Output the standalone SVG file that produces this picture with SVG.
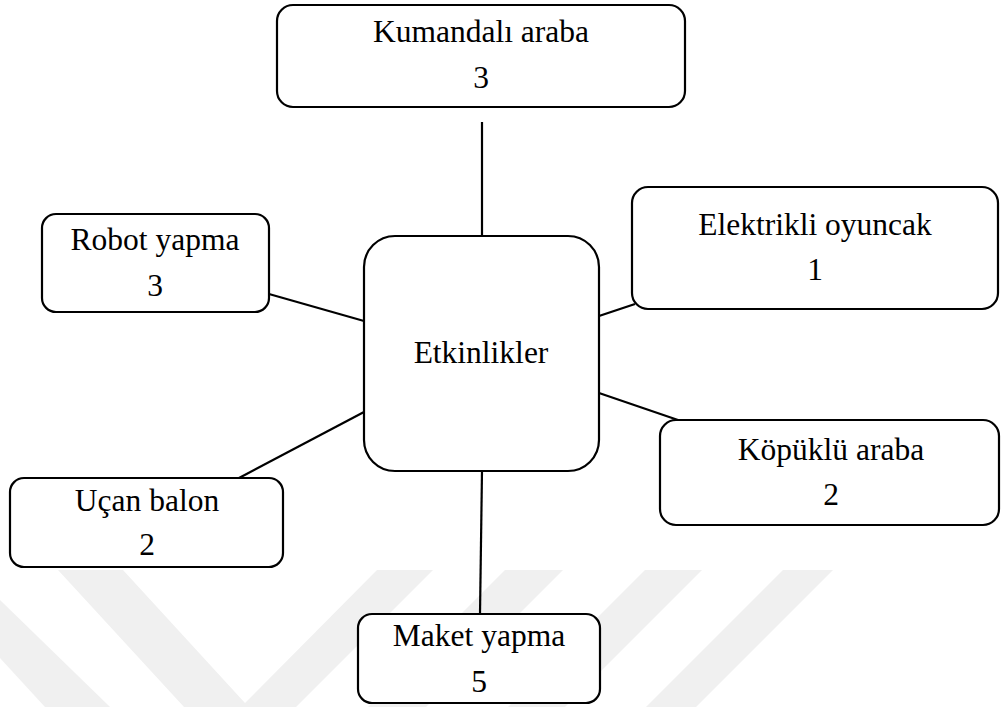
<svg xmlns="http://www.w3.org/2000/svg" width="1001" height="707" viewBox="0 0 1001 707">
<style>
.box{fill:#fff;stroke:#000;stroke-width:2.2}
.lbl{font-family:"Liberation Serif","Times New Roman",serif;font-size:31.5px;fill:#000;text-anchor:middle}
.wm{fill:#f0f0f0}
.conn line{stroke:#000;stroke-width:2.2}
</style>
<rect width="1001" height="707" fill="#fff"/>
<g id="watermark">
<polygon class="wm" points="58,570 123,570 245,703 377,570 433,570 296,707 184,707"/>
<polygon class="wm" points="0,600 110,707 45,707 0,658"/>
<polygon class="wm" points="505,570 563,570 426,707 368,707"/>
<polygon class="wm" points="645,570 702,570 565,707 508,707"/>
<polygon class="wm" points="783,570 833,570 696,707 646,707"/>
</g>
<g id="connectors" class="conn">
<line x1="482" y1="122" x2="482" y2="236"/>
<line x1="269" y1="294" x2="364" y2="321"/>
<line x1="599" y1="316" x2="635" y2="304"/>
<line x1="599" y1="393" x2="678" y2="420"/>
<line x1="364" y1="412" x2="239" y2="478"/>
<line x1="482" y1="471" x2="480" y2="614"/>
</g>
<g id="kumandali">
<rect class="box" x="277" y="5" width="408" height="102" rx="16"/>
<text class="lbl" x="481" y="42">Kumandalı araba</text>
<text class="lbl" x="481" y="88">3</text>
</g>
<g id="etkinlikler">
<rect class="box" x="364" y="236" width="235" height="235" rx="31"/>
<text class="lbl" x="481" y="363">Etkinlikler</text>
</g>
<g id="elektrikli">
<rect class="box" x="632" y="187" width="366" height="122" rx="16"/>
<text class="lbl" x="815" y="235">Elektrikli oyuncak</text>
<text class="lbl" x="815" y="280">1</text>
</g>
<g id="robot">
<rect class="box" x="42" y="214" width="227" height="98" rx="14"/>
<text class="lbl" x="155" y="250">Robot yapma</text>
<text class="lbl" x="155" y="296">3</text>
</g>
<g id="kopuklu">
<rect class="box" x="660" y="420" width="339" height="105" rx="16"/>
<text class="lbl" x="831" y="460">Köpüklü araba</text>
<text class="lbl" x="831" y="505">2</text>
</g>
<g id="ucan">
<rect class="box" x="10" y="478" width="273" height="89" rx="14"/>
<text class="lbl" x="147" y="511">Uçan balon</text>
<text class="lbl" x="147" y="555">2</text>
</g>
<g id="maket">
<rect class="box" x="358" y="614" width="242" height="89" rx="14"/>
<text class="lbl" x="479" y="646">Maket yapma</text>
<text class="lbl" x="479" y="692">5</text>
</g>
</svg>
